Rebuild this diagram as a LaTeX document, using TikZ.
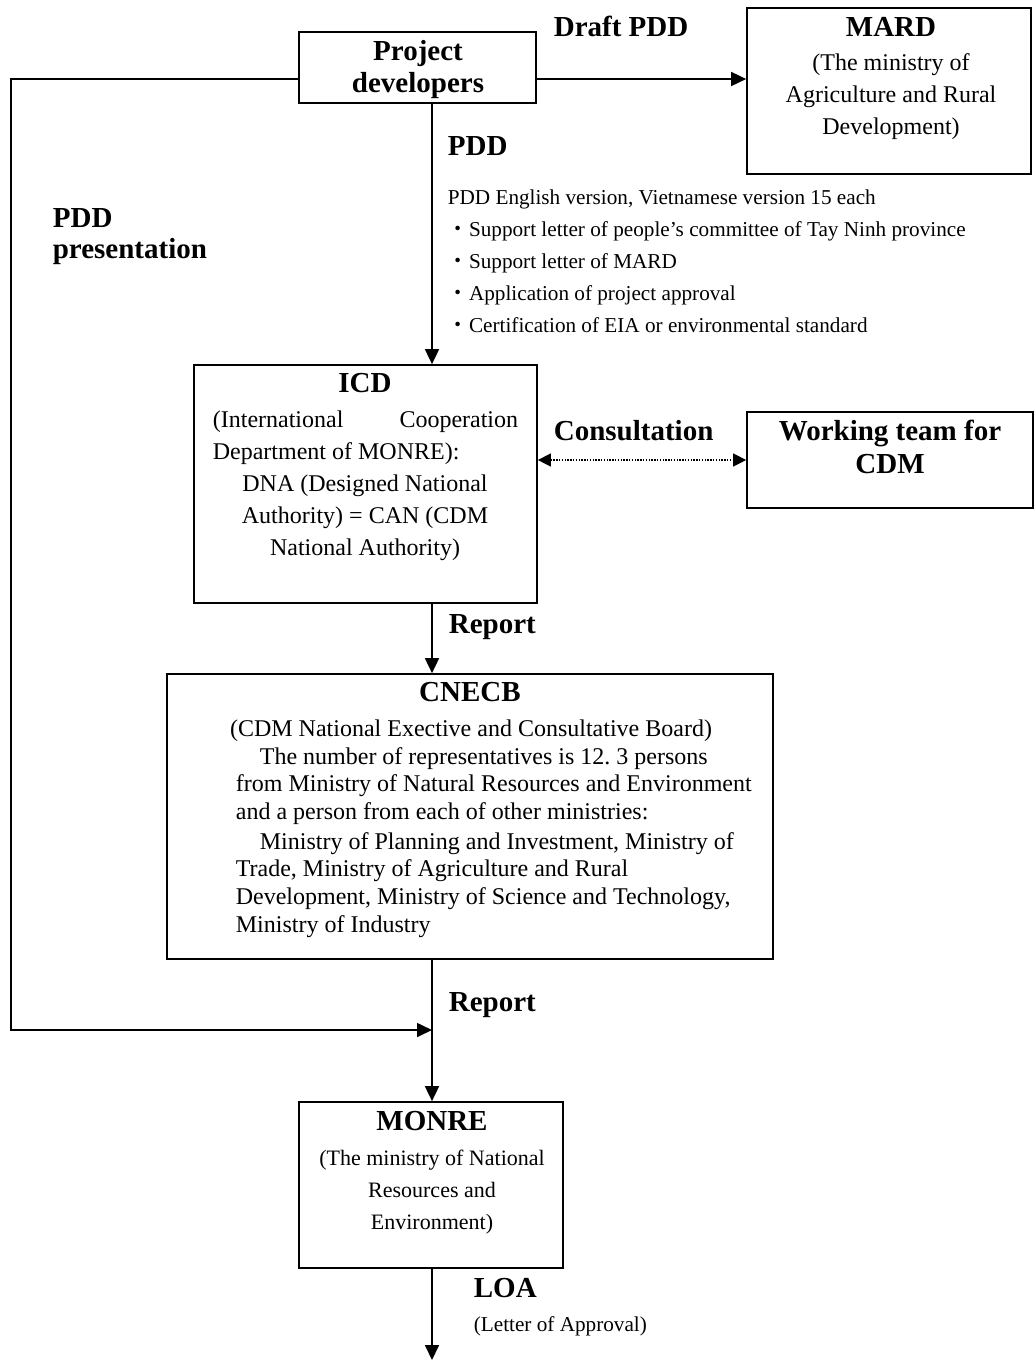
\documentclass[tikz,border=0pt]{standalone}
\usepackage{fontspec}
\setmainfont{Liberation Serif}
\newfontfamily\cjkfont{Noto Sans CJK JP}
\usetikzlibrary{arrows.meta}
\frenchspacing
\begin{document}
\begin{tikzpicture}[x=1pt,y=-1pt,line width=1.7pt,
  box/.style={draw,line width=1.7pt,inner sep=0pt},
  hd/.style={inner sep=0pt,font=\fontsize{29}{34}\selectfont\bfseries},
  ta/.style={inner sep=0pt,font=\fontsize{21.2}{25}\selectfont},
  tb/.style={inner sep=0pt,font=\fontsize{24}{28}\selectfont},
  tc/.style={inner sep=0pt,font=\fontsize{22}{26}\selectfont},
  arr/.style={-{Triangle[length=15pt,width=14pt]}},
  darr/.style={{Triangle[length=13pt,width=13pt]}-{Triangle[length=13pt,width=13pt]},line width=1.2pt,dash pattern=on 1.4pt off 1.4pt}]
\useasboundingbox (0,0) rectangle (1034,1361);
% boxes
\node[box,minimum width=237pt,minimum height=71pt] (pd) at (417.5,67.5) {};
\node[box,minimum width=284pt,minimum height=166pt] (mard) at (889,91) {};
\node[box,minimum width=343pt,minimum height=238pt] (icd) at (365.5,484) {};
\node[box,minimum width=286pt,minimum height=96pt] (wt) at (890,460) {};
\node[box,minimum width=606pt,minimum height=285pt] (cnecb) at (470,816.5) {};
\node[box,minimum width=264pt,minimum height=166pt] (monre) at (431,1185) {};
% helper coordinates
\coordinate (sp) at (432,0);
\coordinate (lc1) at (11,79);
\coordinate (lc2) at (11,1030);
\coordinate (endp) at (432,1360);
\begin{scope}[shift={(0,6)}]
% project developers
\node[hd,anchor=mid] (pd1) at (418,52) {Project};
\node[hd,anchor=mid] (pd2) at (418,84) {developers};
% MARD
\node[hd,anchor=mid] (m1) at (891,28) {MARD};
\node[tb,anchor=mid] (m2) at (891,62) {(The ministry of};
\node[tb,anchor=mid] (m3) at (891,94) {Agriculture and Rural};
\node[tb,anchor=mid] (m4) at (891,126) {Development)};
% labels
\node[hd,anchor=mid west] (ldraft) at (553,28) {Draft PDD};
\node[hd,anchor=mid west] (lpdd) at (447,147) {PDD};
\node[hd,anchor=mid west] (lpres1) at (52,219) {PDD};
\node[hd,anchor=mid west] (lpres2) at (52,250) {presentation};
% list
\node[ta,anchor=mid west] (l0) at (447,196) {PDD English version, Vietnamese version 15 each};
\node[ta,anchor=mid west] (l1) at (447,228) {{\cjkfont ・}Support letter of people’s committee of Tay Ninh province};
\node[ta,anchor=mid west] (l2) at (447,260) {{\cjkfont ・}Support letter of MARD};
\node[ta,anchor=mid west] (l3) at (447,292) {{\cjkfont ・}Application of project approval};
\node[ta,anchor=mid west] (l4) at (447,324) {{\cjkfont ・}Certification of EIA or environmental standard};
% ICD
\node[hd,anchor=mid] (i0) at (365,384) {ICD};
\node[tb,anchor=mid west] (i1a) at (212,419) {(International};
\node[tb,anchor=mid east] (i1b) at (519,419) {Cooperation};
\node[tb,anchor=mid west] (i2) at (212,451) {Department of MONRE):};
\node[tb,anchor=mid] (i3) at (365,483) {DNA (Designed National};
\node[tb,anchor=mid] (i4) at (365,515) {Authority) = CAN (CDM};
\node[tb,anchor=mid] (i5) at (365,547) {National Authority)};
% consultation / working team
\node[hd,anchor=mid west] (lcons) at (553,432) {Consultation};
\node[hd,anchor=mid] (w1) at (890,432) {Working team for};
\node[hd,anchor=mid] (w2) at (890,465) {CDM};
% report labels
\node[hd,anchor=mid west] (lrep1) at (448,625) {Report};
\node[hd,anchor=mid west] (lrep2) at (448,1003) {Report};
% CNECB
\node[hd,anchor=mid] (c0) at (470,693) {CNECB};
\node[tb,anchor=mid] (c1) at (471,728) {(CDM National Exective and Consultative Board)};
\node[tb,anchor=mid west] (c2) at (259,756) {The number of representatives is 12. 3 persons};
\node[tb,anchor=mid west] (c3) at (235,783) {from Ministry of Natural Resources and Environment};
\node[tb,anchor=mid west] (c4) at (235,811) {and a person from each of other ministries:};
\node[tb,anchor=mid west] (c5) at (259,841) {Ministry of Planning and Investment, Ministry of};
\node[tb,anchor=mid west] (c6) at (235,868) {Trade, Ministry of Agriculture and Rural};
\node[tb,anchor=mid west] (c7) at (235,896) {Development, Ministry of Science and Technology,};
\node[tb,anchor=mid west] (c8) at (235,924) {Ministry of Industry};
% MONRE
\node[hd,anchor=mid] (n0) at (432,1122) {MONRE};
\node[tc,anchor=mid] (n1) at (432,1157) {(The ministry of National};
\node[tc,anchor=mid] (n2) at (432,1189) {Resources and};
\node[tc,anchor=mid] (n3) at (432,1221) {Environment)};
\node[hd,anchor=mid west] (lloa) at (473,1289) {LOA};
\node[ta,anchor=mid west] (lletter) at (473,1323) {(Letter of Approval)};
\end{scope}
% connectors
\draw[arr] (pd.east |- lc1) -- (mard.west |- lc1);
\draw[arr] (pd.west |- lc1) -- (lc1) -- (lc2) -- (lc2 -| sp);
\draw[arr] (pd.south -| sp) -- (icd.north -| sp);
\draw[darr] (icd.east |- wt.west) -- (wt.west);
\draw[arr] (icd.south -| sp) -- (cnecb.north -| sp);
\draw[arr] (cnecb.south -| sp) -- (monre.north -| sp);
\draw[arr] (monre.south -| sp) -- (endp);
\end{tikzpicture}
\end{document}
